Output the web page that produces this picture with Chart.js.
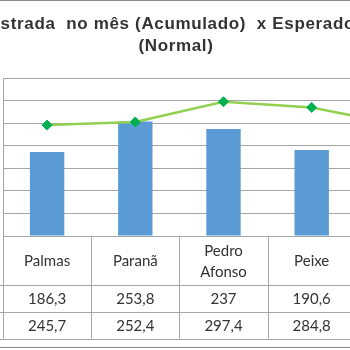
<!DOCTYPE html>
<html>
<head>
<meta charset="utf-8">
<script src="https://cdn.jsdelivr.net/npm/chart.js@4/dist/chart.umd.min.js"></script>
<style>
  html, body { margin: 0; padding: 0; overflow: hidden; background: #fff; }
  #chart { display: block; margin-left: -20px; }
</style>
</head>
<body>
<canvas id="chart" width="470" height="350"></canvas>
<script>
// Data
const categories = ["Palmas", "Paranã", "Pedro Afonso", "Peixe", "Porto Nacional"];
const registrada = [186.3, 253.8, 237, 190.6, null];
const esperado = [245.7, 252.4, 297.4, 284.8, 246];
const yTicks = [0, 50, 100, 150, 200, 250, 300, 350];
const titleLines = ["Precipitação Registrada  no mês (Acumulado)  x Esperado", "(Normal)"];

const gridColor = "#a6a6a6";

function formatValue(v) {
  if (v === null || v === undefined) return "";
  return String(v).replace(".", ",");
}

function hLine(ctx, x1, x2, y) {
  y = Math.round(y) + 0.5;
  ctx.beginPath();
  ctx.moveTo(x1, y);
  ctx.lineTo(x2, y);
  ctx.stroke();
}

function vLine(ctx, x, y1, y2) {
  x = Math.round(x) + 0.5;
  ctx.beginPath();
  ctx.moveTo(x, y1);
  ctx.lineTo(x, y2);
  ctx.stroke();
}

// Title (the chart is cropped, so lines are placed by hand)
const titlePlugin = {
  id: "cropTitle",
  afterDraw(chart) {
    const ctx = chart.ctx;
    ctx.save();
    ctx.font = "bold 17px 'Liberation Sans'";
    ctx.letterSpacing = "0.65px";
    ctx.fillStyle = "#333333";
    ctx.textBaseline = "middle";
    ctx.textAlign = "right";
    ctx.fillText(titleLines[0], 375, 24);
    ctx.textAlign = "center";
    ctx.fillText(titleLines[1], 196, 46.5);
    ctx.restore();
  },
};

// Data table under the plot
const tablePlugin = {
  id: "dataTable",
  afterDraw(chart) {
    const { ctx, chartArea, scales } = chart;
    const colW = (chartArea.right - chartArea.left) / categories.length;
    const top = chartArea.bottom;
    const rows = [top + 49, top + 76, top + 102.5];
    const rowsData = [registrada, esperado];

    ctx.save();
    ctx.strokeStyle = gridColor;
    ctx.lineWidth = 1;
    rows.forEach((y) => hLine(ctx, 0, chartArea.right, y));
    for (let i = 0; i <= categories.length; i++) {
      vLine(ctx, chartArea.left + i * colW, top, rows[2]);
    }

    ctx.fillStyle = "#333333";
    ctx.font = "15px Lato";
    ctx.textAlign = "center";
    ctx.textBaseline = "middle";

    categories.forEach((name, i) => {
      const cx = scales.x.getPixelForValue(i);
      let lines = [name];
      if (ctx.measureText(name).width > colW - 12) lines = name.split(" ");
      const lh = 21;
      const mid = (top + rows[0]) / 2 + 1;
      lines.forEach((l, j) => {
        ctx.fillText(l, cx, mid + (j - (lines.length - 1) / 2) * lh);
      });
      rowsData.forEach((series, r) => {
        const y = (rows[r] + rows[r + 1]) / 2 + 1;
        ctx.fillText(formatValue(series[i]), cx, y);
      });
    });

    // outer chart frame
    ctx.strokeStyle = "#8c8c8c";
    ctx.strokeRect(0.5, 0.5, chart.width - 1, 347);
    ctx.restore();
  },
};

new Chart(document.getElementById("chart").getContext("2d"), {
  data: {
    labels: categories,
    datasets: [
      {
        type: "line",
        label: "Esperado (Normal)",
        data: esperado,
        borderColor: "#92d050",
        borderWidth: 2.5,
        tension: 0,
        pointStyle: "rectRot",
        pointRadius: 5,
        pointBackgroundColor: "#00b050",
        pointBorderColor: "#00b050",
        pointBorderWidth: 1,
        order: 1,
      },
      {
        type: "bar",
        label: "Registrada",
        data: registrada,
        backgroundColor: "#5b9bd5",
        barPercentage: 0.39,
        categoryPercentage: 1,
        order: 2,
      },
    ],
  },
  options: {
    responsive: false,
    animation: false,
    devicePixelRatio: 1,
    layout: {
      padding: { left: 23, right: 6, top: 78, bottom: 114 },
    },
    plugins: {
      legend: { display: false },
      title: { display: false },
      tooltip: { enabled: false },
    },
    scales: {
      x: {
        grid: { display: false, drawTicks: false },
        ticks: { display: false },
        border: { display: true, color: gridColor },
      },
      y: {
        min: 0,
        max: 350,
        afterBuildTicks: (axis) => {
          axis.ticks = yTicks.map((v) => ({ value: v }));
        },
        grid: { color: gridColor, drawTicks: false },
        ticks: { display: false },
        border: { display: true, color: gridColor },
      },
    },
  },
  plugins: [titlePlugin, tablePlugin],
});
</script>
</body>
</html>
